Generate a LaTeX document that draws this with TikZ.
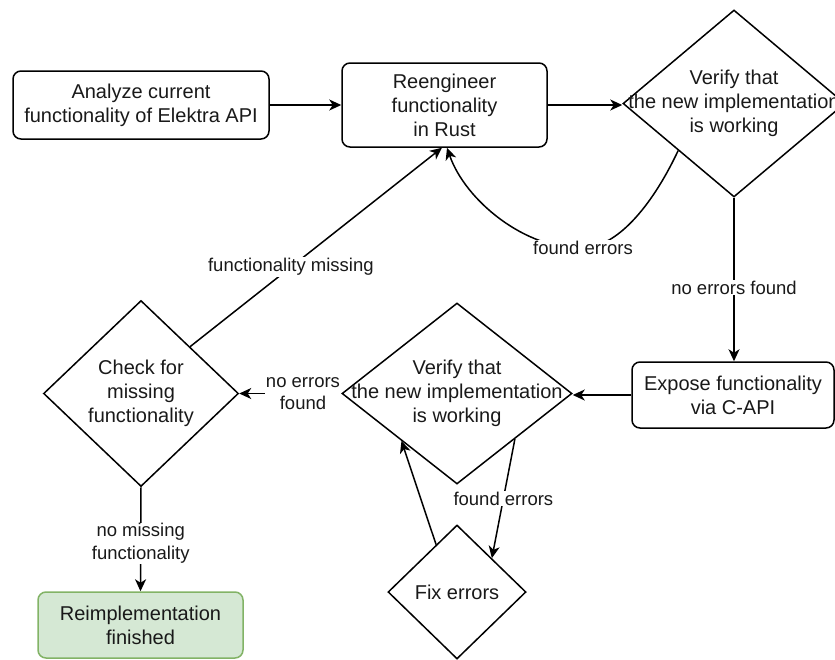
\documentclass[tikz,border=0pt]{standalone}
\usepackage{fontspec}
\setmainfont{Liberation Sans}
\usetikzlibrary{shapes.geometric,arrows.meta,calc}
\definecolor{gfill}{HTML}{D5E8D4}
\definecolor{gline}{HTML}{82B366}
\begin{document}
\begin{tikzpicture}[x=1pt,y=-1pt,
  every node/.style={text=black!90},
  proc/.style={draw, rounded corners=8pt, line width=1.5pt, align=center, inner sep=0pt, font=\fontsize{20}{24}\selectfont},
  dia/.style={draw, diamond, line width=1.5pt, inner sep=0pt},
  dtext/.style={align=center, font=\fontsize{20}{24}\selectfont},
  lbl/.style={fill=white, align=center, inner sep=1pt, font=\fontsize{18.5}{22.5}\selectfont},
  conn/.style={line width=1.5pt, -{Stealth[length=12pt,width=11pt,inset=3.5pt]}},
]
\useasboundingbox (0,0) rectangle (835,659);

% nodes
\node[proc, minimum width=256pt, minimum height=68pt] (analyze) at (141,105) {Analyze current\\functionality of Elektra API};
\node[proc, minimum width=205pt, minimum height=84pt] (reeng) at (444.5,105) {Reengineer\\functionality\\in Rust};
\node[dia, minimum width=222pt, minimum height=187pt] (d1) at (734,103.5) {};
\node[dtext] (d1t) at (d1) {Verify that\\the new implementation\\is working};
\node[proc, minimum width=202pt, minimum height=66pt] (expose) at (733,395) {Expose functionality\\via C-API};
\node[dia, minimum width=230pt, minimum height=181pt] (d2) at (457,393.5) {};
\node[dtext] (d2t) at (d2) {Verify that\\the new implementation\\is working};
\node[dia, minimum width=195pt, minimum height=186pt] (d3) at (141,393.5) {};
\node[dtext] (d3t) at (d3) {Check for\\missing\\functionality};
\node[proc, fill=gfill, draw=gline, minimum width=205pt, minimum height=66pt] (done) at (140.5,625) {Reimplementation\\finished};
\node[dia, minimum width=138pt, minimum height=134pt] (fix) at (457,592) {};
\node[dtext] (fixt) at (fix) {Fix errors};

% helper coordinates
\coordinate (d3ne) at ($(d3.north)!0.5!(d3.east)$);
\coordinate (rb1) at ([xshift=-2.5pt]reeng.south);
\coordinate (d1sw) at ($(d1.west)!0.5!(d1.south)$);
\coordinate (rb2) at ([xshift=2.5pt]reeng.south);
\coordinate (fe) at (583,248);
\coordinate (d2se) at ($(d2.east)!0.5!(d2.south)$);
\coordinate (fixne) at ($(fix.north)!0.5!(fix.east)$);
\coordinate (fixnw) at ($(fix.west)!0.7!(fix.north)$);
\coordinate (d2sw) at ($(d2.west)!0.52!(d2.south)$);

% connectors
\draw[conn] (analyze.east) -- (analyze.east -| reeng.west);
\draw[conn] (reeng.east) -- (reeng.east -| d1.west);
\draw[conn] (d1.south) -- node[lbl, pos=0.55] {no errors found} (d1.south |- expose.north);
\draw[conn] (expose.west) -- (expose.west -| d2.east);
\draw[conn] (d2.west) -- node[lbl, pos=0.375] {no errors\\found} (d3.east);
\draw[conn] (d3.south) -- node[lbl, pos=0.54] {no missing\\functionality} (done.north);
\draw[conn] (d3ne) -- node[lbl, pos=0.4] {functionality missing} (rb1);
\draw[conn] (d1sw) .. controls (655,200) and (620,247) .. (fe) .. controls (525,250) and (465,200) .. (rb2);
\node[lbl] (fel) at (fe) {found errors};
\draw[conn] (d2se) -- node[lbl] {found errors} (fixne);
\draw[conn] (fixnw) -- (d2sw);
\end{tikzpicture}
\end{document}
